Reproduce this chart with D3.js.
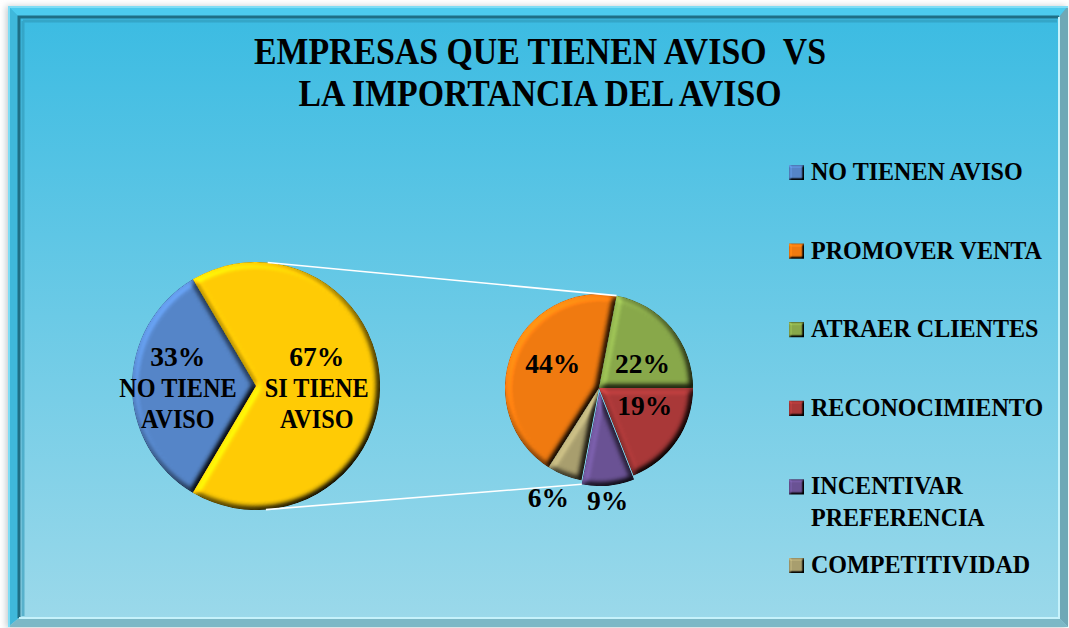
<!DOCTYPE html>
<html>
<head>
<meta charset="utf-8">
<script src="https://cdn.jsdelivr.net/npm/d3@7"></script>
<style>
  html, body { margin: 0; padding: 0; background: #fff; }
  svg { display: block; }
  text { font-family: "Liberation Serif", "DejaVu Serif", serif; font-weight: bold; fill: #000; white-space: pre; }
</style>
</head>
<body>
<svg id="chart" width="1069" height="628"></svg>
<script>
// ---- data ----
const titleLines = ["EMPRESAS QUE TIENEN AVISO  VS", "LA IMPORTANCIA DEL AVISO"];

const mainCategories = ["NO TIENEN AVISO", "SI TIENE AVISO"];
const mainValues = [33, 67];
const mainSliceLabels = [["NO TIENE", "AVISO"], ["SI TIENE", "AVISO"]];
const mainColors = ["#5585C8", "#FFCB05"];

const detailCategories = ["PROMOVER VENTA", "ATRAER CLIENTES", "RECONOCIMIENTO", "INCENTIVAR PREFERENCIA", "COMPETITIVIDAD"];
const detailValues = [44, 22, 19, 9, 6];
const detailColors = ["#F07A10", "#88A84A", "#A93838", "#6A5294", "#A89E6E"];

const legendLabels = [["NO TIENEN AVISO"], ["PROMOVER VENTA"], ["ATRAER CLIENTES"], ["RECONOCIMIENTO"], ["INCENTIVAR", "PREFERENCIA"], ["COMPETITIVIDAD"]];
const legendColors = [mainColors[0], ...detailColors];

// ---- layout ----
const deg = Math.PI / 180;
const svg = d3.select("#chart");
const defs = svg.append("defs");

// chart area background
const bg = defs.append("linearGradient").attr("id", "bgGrad").attr("x1", 0).attr("y1", 0).attr("x2", 0).attr("y2", 1);
bg.append("stop").attr("offset", "0%").attr("stop-color", "#3ABBE2");
bg.append("stop").attr("offset", "100%").attr("stop-color", "#9CD9EA");

// soft shadow under the frame
const sh = defs.append("filter").attr("id", "frameShadow").attr("x", "-5%").attr("y", "-5%").attr("width", "110%").attr("height", "110%");
sh.append("feGaussianBlur").attr("stdDeviation", 3);

// bevel for slices and legend keys
function bevelFilter(id, blur, scale) {
  const f = defs.append("filter").attr("id", id)
    .attr("x", "-10%").attr("y", "-10%").attr("width", "120%").attr("height", "120%")
    .attr("color-interpolation-filters", "sRGB");
  f.append("feGaussianBlur").attr("in", "SourceAlpha").attr("stdDeviation", blur).attr("result", "b");
  const l = f.append("feDiffuseLighting").attr("in", "b").attr("surfaceScale", scale)
    .attr("diffuseConstant", 1).attr("lighting-color", "#fff").attr("result", "d");
  l.append("feDistantLight").attr("azimuth", 225).attr("elevation", 55);
  f.append("feComposite").attr("in", "SourceGraphic").attr("in2", "d")
    .attr("operator", "arithmetic").attr("k1", 1 / Math.sin(55 * deg)).attr("k2", 0).attr("k3", 0).attr("k4", 0);
}
bevelFilter("bevel", 3, 5);
bevelFilter("bevelSmall", 1.2, 3);

// frame
const fx = 8, fy = 6, fw = 1060, fh = 621, band = 11;
svg.append("rect").attr("x", fx - 2).attr("y", fy).attr("width", fw).attr("height", fh + 1)
  .attr("fill", "#8a9aa0").attr("opacity", 0.5).attr("filter", "url(#frameShadow)");
svg.append("rect").attr("x", fx).attr("y", fy).attr("width", fw).attr("height", fh).attr("fill", "url(#bgGrad)");

const x0 = fx, y0 = fy, x1 = fx + fw, y1 = fy + fh;
const ix0 = x0 + band, iy0 = y0 + band, ix1 = x1 - band + 2, iy1 = y1 - band + 2;
const bevelBands = [
  { pts: [[x0, y0], [x1, y0], [ix1, iy0], [ix0, iy0]], fill: "#4CCBEE" },
  { pts: [[x0, y0], [ix0, iy0], [ix0, iy1], [x0, y1]], fill: "#3FB8DB" },
  { pts: [[x1, y0], [x1, y1], [ix1, iy1], [ix1, iy0]], fill: "#6FA8B6" },
  { pts: [[x0, y1], [ix0, iy1], [ix1, iy1], [x1, y1]], fill: "#7CB8C6" }
];
svg.selectAll("polygon.bevel").data(bevelBands).join("polygon")
  .attr("points", d => d.pts.map(p => p.join(",")).join(" "))
  .attr("fill", d => d.fill);
// inner groove: dark on top/left, light on bottom/right
svg.append("path").attr("d", `M${ix0},${iy1} L${ix0},${iy0} L${ix1},${iy0}`)
  .attr("fill", "none").attr("stroke", "#1E6F86").attr("stroke-width", 3);
svg.append("path").attr("d", `M${ix0 + 4},${iy0 + 4} L${ix1 - 2},${iy0 + 4} M${ix0 + 4},${iy0 + 4} L${ix0 + 4},${iy1 - 2}`)
  .attr("fill", "none").attr("stroke", "#2E98B8").attr("stroke-width", 3).attr("opacity", 0.6);
svg.append("path").attr("d", `M${ix0},${iy1} L${ix1},${iy1} L${ix1},${iy0}`)
  .attr("fill", "none").attr("stroke", "#C6F2FB").attr("stroke-width", 2);
// outer highlight line
svg.append("path").attr("d", `M${x0 + 1},${y1} L${x0 + 1},${y0 + 1} L${x1},${y0 + 1}`)
  .attr("fill", "none").attr("stroke", "#7FDDF5").attr("stroke-width", 2);

// ---- text width calibration (the serif substitute is narrower than the original face) ----
function measure(str, size) {
  const t = svg.append("text").attr("font-size", size).text(str);
  const w = t.node().getComputedTextLength();
  t.remove();
  return w;
}
const stretch = 216 / measure("NO TIENEN AVISO", 25.5);
function fitText(sel, k = stretch) {
  sel.each(function () {
    const w = this.getComputedTextLength();
    if (w > 0) d3.select(this).attr("textLength", w * k).attr("lengthAdjust", "spacingAndGlyphs");
  });
  return sel;
}

// ---- title ----
const titleSize = 38;
const titleStretch = 572 / measure(titleLines[0], titleSize);
svg.append("g").selectAll("text").data(titleLines).join("text")
  .attr("x", 540).attr("y", (d, i) => 64 + i * 41.5)
  .attr("text-anchor", "middle").attr("font-size", titleSize)
  .text(d => d)
  .call(fitText, titleStretch);

// ---- main pie ----
const mainC = [256, 386], mainR = 124;
const mainSpan = mainValues[0] / d3.sum(mainValues) * 2 * Math.PI;
const mainPie = d3.pie().sort(null).startAngle(-Math.PI / 2 - mainSpan / 2).endAngle(3 * Math.PI / 2 - mainSpan / 2);
const mainArcs = mainPie(mainValues);
const mainArc = d3.arc().innerRadius(0).outerRadius(mainR);

const gMain = svg.append("g").attr("transform", `translate(${mainC})`);
gMain.selectAll("path").data(mainArcs).join("path")
  .attr("d", mainArc).attr("fill", (d, i) => mainColors[i]).attr("filter", "url(#bevel)");

// ---- detail pie ----
const detC = [599, 388], detR = 94;
const explode = [0, 0, 0, 4, 0];
const detStart = -147.6 * deg;
const detPie = d3.pie().sort(null).startAngle(detStart).endAngle(detStart + 2 * Math.PI);
const detArcs = detPie(detailValues);
const detArc = d3.arc().innerRadius(0).outerRadius(detR);
const mid = d => (d.startAngle + d.endAngle) / 2;
const polar = (a, r) => [Math.sin(a) * r, -Math.cos(a) * r];

const gDet = svg.append("g").attr("transform", `translate(${detC})`);
gDet.selectAll("path").data(detArcs).join("path")
  .attr("transform", (d, i) => `translate(${polar(mid(d), explode[i])})`)
  .attr("d", detArc).attr("fill", (d, i) => detailColors[i]).attr("filter", "url(#bevel)");

// ---- connector lines: tangent to the main pie, ending on the detail pie ----
function tangentPoint(P, C, r, side) {
  const dx = P[0] - C[0], dy = P[1] - C[1];
  const d = Math.hypot(dx, dy);
  const a = Math.atan2(dy, dx) + side * Math.acos(r / d);
  return [C[0] + r * Math.cos(a), C[1] + r * Math.sin(a)];
}
const topArc = detArcs[0];            // boundary after the first slice
const botArc = detArcs[3];            // exploded slice edge
const pTop = polar(topArc.endAngle, detR).map((v, k) => v + detC[k]);
const botOff = polar(mid(botArc), explode[3]);
const pBot = polar(botArc.endAngle, detR).map((v, k) => v + detC[k] + botOff[k]);
const connectors = [
  [tangentPoint(pTop, mainC, mainR, -1), pTop],
  [tangentPoint(pBot, mainC, mainR, 1), pBot]
];
svg.append("g").selectAll("line").data(connectors).join("line")
  .attr("x1", d => d[0][0]).attr("y1", d => d[0][1])
  .attr("x2", d => d[1][0]).attr("y2", d => d[1][1])
  .attr("stroke", "#fff").attr("stroke-width", 1.6);

// ---- data labels ----
const labelSize = 26.5, capH = labelSize * 0.66, lineH = 31;
const pct = (v, tot) => Math.round(v / tot * 100) + "%";
const pctStretch = 55 / measure("44%", labelSize);

const mainLabelPos = [0.63, 0.49];
const gMainLbl = svg.append("g");
mainArcs.forEach((d, i) => {
  const [cx, cy] = polar(mid(d), mainR * mainLabelPos[i]);
  const lines = [pct(d.value, d3.sum(mainValues)), ...mainSliceLabels[i]];
  const top = mainC[1] + cy - (lines.length - 1) * lineH / 2 + capH / 2 + 2;
  gMainLbl.selectAll(null).data(lines).join("text")
    .attr("x", mainC[0] + cx).attr("y", (t, k) => top + k * lineH)
    .attr("text-anchor", "middle").attr("font-size", labelSize).text(t => t)
    .each(function (t, k) { fitText(d3.select(this), k === 0 ? pctStretch : stretch * 0.95); });
});

const detLabelPos = [
  { f: 0.53, dx: 0, dy: -5 },
  { f: 0.60, dx: 0, dy: 12 },
  { f: 0.59, dx: 0, dy: -13 },
  { f: 1.21, dx: -2, dy: 0 },
  { f: 1.17, dx: -10, dy: 8 }
];
svg.append("g").selectAll("text").data(detArcs).join("text")
  .attr("x", (d, i) => detC[0] + polar(mid(d), detR * detLabelPos[i].f)[0] + detLabelPos[i].dx)
  .attr("y", (d, i) => detC[1] + polar(mid(d), detR * detLabelPos[i].f)[1] + detLabelPos[i].dy + capH / 2)
  .attr("text-anchor", "middle").attr("font-size", labelSize)
  .text(d => pct(d.value, d3.sum(detailValues)))
  .call(fitText, pctStretch);

// ---- legend ----
const legX = 789, legY = 165, legStep = 78.6, keySize = 15, legSize = 25.5, legLineH = 32;
const legend = svg.append("g");
const items = legend.selectAll("g").data(legendLabels).join("g")
  .attr("transform", (d, i) => `translate(${legX},${legY + i * legStep})`);
items.append("rect").attr("width", keySize).attr("height", keySize)
  .attr("fill", (d, i) => legendColors[i]).attr("filter", "url(#bevelSmall)");
items.selectAll("text").data(d => d).join("text")
  .attr("x", 22).attr("y", (t, k) => keySize + k * legLineH)
  .attr("font-size", legSize).text(t => t)
  .call(fitText, stretch * 0.98);
</script>
</body>
</html>
